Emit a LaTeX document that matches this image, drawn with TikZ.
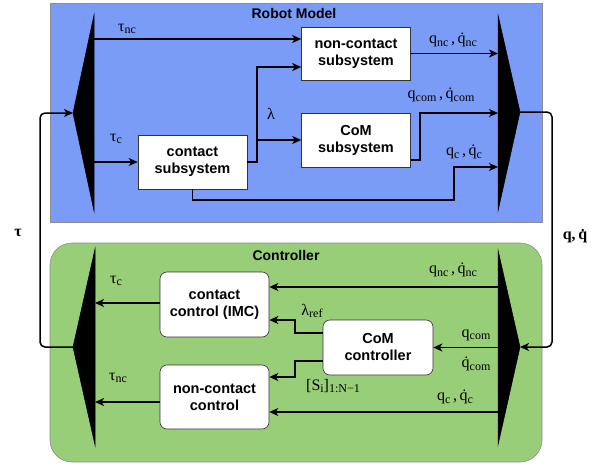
\documentclass[tikz,border=0pt]{standalone}
\usepackage{fontspec}
\setmainfont{Liberation Serif}
\newfontfamily\boxfont{Liberation Sans}
\usetikzlibrary{arrows.meta,calc}
\definecolor{robotblue}{RGB}{122,156,246}
\definecolor{ctrlgreen}{RGB}{152,206,120}
\newcommand{\qd}{\.{q}}
\newcommand{\sbs}[1]{\raisebox{-0.35ex}{\fontsize{12}{12}\selectfont #1}}
\tikzset{
  arr/.style={line width=1.5pt,-{Stealth[length=9pt,width=8pt,inset=2.5pt]}},
  sbox/.style={draw=black!80,line width=0.6pt,fill=white,minimum width=109pt,align=center,
    font=\boxfont\bfseries\fontsize{14.5}{17}\selectfont,inner sep=0pt},
  cbox/.style={sbox,rounded corners=7pt},
  lab/.style={font=\fontsize{16}{18}\selectfont,inner sep=0pt},
  blab/.style={font=\bfseries\fontsize{16}{18}\selectfont,inner sep=0pt},
  title/.style={font=\boxfont\bfseries\fontsize{14}{16}\selectfont,inner sep=0pt},
  mux/.style={fill=black,draw=black,line width=0.5pt}
}
\begin{document}
\begin{tikzpicture}[x=1pt,y=-1pt]
\useasboundingbox (0,0) rectangle (602,466);
% regions
\filldraw[fill=robotblue,draw=black!45,line width=0.6pt] (50,3) rectangle (542,222);
\filldraw[fill=ctrlgreen,draw=black!45,line width=0.6pt,rounded corners=22pt] (50,243) rectangle (542,462);
\node[title] (tRM) at (294,13) {Robot Model};
\node[title] (tC) at (286,255) {Controller};
% muxes
\fill[mux] (94,15) -- (94,211) -- (73,113) -- cycle;
\fill[mux] (498,15) -- (520,112) -- (498,211) -- cycle;
\fill[mux] (95,249) -- (95,445) -- (73,347) -- cycle;
\fill[mux] (498,250) -- (520,347) -- (498,445) -- cycle;
\coordinate (rlT) at (73,113);
\coordinate (rrT) at (520,112);
\coordinate (clT) at (73,347);
\coordinate (crT) at (520,347);
\coordinate (rlE) at (94,0);
\coordinate (rrE) at (498,0);
\coordinate (clE) at (95,0);
\coordinate (crE) at (498,0);
% robot boxes
\node[sbox,minimum height=53pt] (ncs) at (356,53.5) {non-contact\\subsystem};
\node[sbox,minimum height=54pt] (coms) at (356,140) {CoM\\subsystem};
\node[sbox,minimum height=54pt] (cs) at (192.5,162) {contact\\subsystem};
% controller boxes
\node[cbox,minimum height=65pt] (cc) at (214.5,304.5) {contact\\control (IMC)};
\node[cbox,minimum height=64pt] (ncc) at (214.5,397) {non-contact\\control};
\node[cbox,minimum height=55pt,minimum width=110pt] (comc) at (378,347.5) {CoM\\controller};
% robot connectors
\coordinate (a1) at (94,39);
\draw[arr] (a1) -- (ncs.west |- a1);
\coordinate (a2) at (94,162);
\draw[arr] (a2) -- (cs.west);
\coordinate (lamtop) at (257,67);
\coordinate (lamb) at (257,140);
\draw[arr] (cs.east) -| (lamtop) -- (ncs.west |- lamtop);
\draw[arr] (lamb) -- (coms.west);
\coordinate (qc1) at (454,200);
\coordinate (qc2) at (498,167);
\draw[arr] (cs.south) |- (qc1) |- (qc2);
\draw[arr] (ncs.east) -- (ncs.east -| rrE);
\coordinate (cm0) at (411,160);
\coordinate (cm1) at (420,113);
\draw[arr] (cm0) -| (cm1) -- (cm1 -| rrE);
% feedback
\draw[arr,rounded corners=5pt] (rrT) -- (552,112) -- (552,347) -- (crT);
\draw[arr,rounded corners=5pt] (clT) -- (40,347) -- (40,113) -- (rlT);
% controller connectors
\coordinate (b1) at (269,303);
\draw[arr] (cc.west |- b1) -- (b1 -| clE);
\coordinate (b2) at (160,402);
\draw[arr] (b2) -- (b2 -| clE);
\coordinate (b3) at (498,287);
\draw[arr] (b3) -- (cc.east |- b3);
\draw[arr] (crE |- comc.east) -- (comc.east);
\coordinate (b5) at (498,412);
\draw[arr] (b5) -- (ncc.east |- b5);
\coordinate (l0) at (323,333);
\coordinate (l1) at (295,320);
\draw[arr] (l0) -| (l1) -- (cc.east |- l1);
\coordinate (s0) at (323,361);
\coordinate (s1) at (295,377);
\draw[arr] (s0) -| (s1) -- (ncc.east |- s1);
% labels
\node[lab] (L1) at (127,29) {τ\sbs{nc}};
\node[lab] (L2) at (116,139) {τ\sbs{c}};
\node[lab] (L3) at (271,114) {λ};
\node[lab] (L4) at (453,40) {q\sbs{nc}\,,\,\qd\sbs{nc}};
\node[lab] (L5) at (441,95) {q\sbs{com}\,,\,\qd\sbs{com}};
\node[lab] (L6) at (464,152) {q\sbs{c}\,,\,\qd\sbs{c}};
\node[blab] (L7) at (575,236) {q,\,\qd};
\node[blab] (L8) at (18,233) {τ};
\node[lab] (L9) at (116,281) {τ\sbs{c}};
\node[lab] (L10) at (118,378) {τ\sbs{nc}};
\node[lab] (L11) at (453,270) {q\sbs{nc}\,,\,\qd\sbs{nc}};
\node[lab] (L12) at (312,311) {λ\sbs{ref}};
\node[lab] (L13) at (476,335) {q\sbs{com}};
\node[lab] (L14) at (476,364) {\qd\sbs{com}};
\node[lab] (L15) at (333,386) {[S\sbs{i}]\sbs{1:N−1}};
\node[lab] (L16) at (455,397) {q\sbs{c}\,,\,\qd\sbs{c}};
\end{tikzpicture}
\end{document}
